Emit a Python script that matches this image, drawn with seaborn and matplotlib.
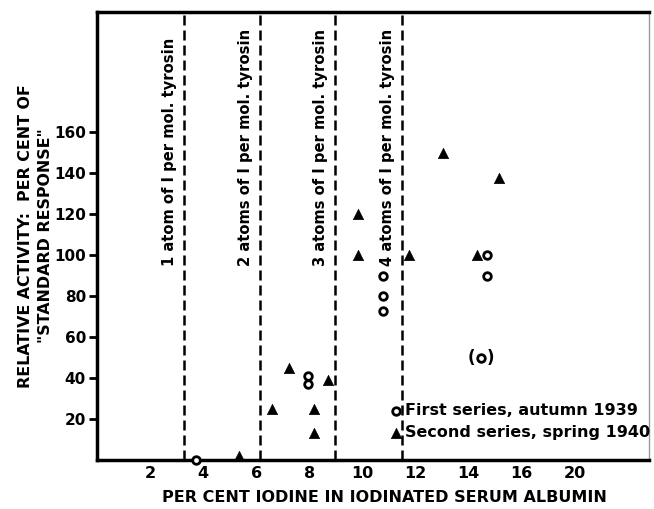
import matplotlib
matplotlib.use("Agg")
import matplotlib.pyplot as plt
import seaborn as sns
import pandas as pd

# first series, autumn 1939 (open circles)
first_x = [3.73, 7.95, 7.95, 10.77, 10.77, 10.77, 14.69, 14.72]
first_y = [0, 41, 37, 90, 80, 73, 90, 100]
# the doubtful point shown in brackets
doubt_x = [14.47]
doubt_y = [50]
# second series, spring 1940 (filled triangles)
second_x = [5.37, 6.59, 7.22, 8.18, 8.18, 8.72, 9.85, 9.85, 11.77, 13.03, 14.34, 15.17]
second_y = [2, 25, 45, 25, 13, 39, 120, 100, 100, 150, 100, 138]

# iodine content for n atoms of I per mol. tyrosin
atom_x = [3.27, 6.13, 8.96, 11.48]
atom_labels = ["1 atom of I per mol. tyrosin", "2 atoms of I per mol. tyrosin",
               "3 atoms of I per mol. tyrosin", "4 atoms of I per mol. tyrosin"]

y_ticks = [20, 40, 60, 80, 100, 120, 140, 160]
x_ticks = [2, 4, 6, 8, 10, 12, 14, 16, 18]
x_tick_labels = ["2", "4", "6", "8", "10", "12", "14", "16", "20"]

sns.set_theme(style="ticks")
plt.rcParams["font.family"] = ["DejaVu Sans"]
plt.rcParams["font.weight"] = "bold"
for key in ["text.color", "axes.labelcolor", "xtick.color", "ytick.color"]:
    plt.rcParams[key] = "black"

fig = plt.figure(figsize=(6.54, 5.09), dpi=100)
ax = fig.add_axes([0.1483, 0.0963, 0.8437, 0.8807])

df1 = pd.DataFrame({"x": first_x, "y": first_y})
df2 = pd.DataFrame({"x": second_x, "y": second_y})

sns.scatterplot(data=df1, x="x", y="y", ax=ax, marker="o", s=30,
                facecolor="white", edgecolor="black", linewidth=2.0,
                label="First series, autumn 1939", clip_on=False, zorder=4)
sns.scatterplot(data=df2, x="x", y="y", ax=ax, marker="^", s=55,
                color="black", edgecolor="black", linewidth=0.5,
                label="Second series, spring 1940", clip_on=False, zorder=4)
sns.scatterplot(x=doubt_x, y=doubt_y, ax=ax, marker="o", s=30,
                facecolor="white", edgecolor="black", linewidth=2.0, zorder=4)
for xv, yv in zip(doubt_x, doubt_y):
    ax.text(xv, yv, "(  )", ha="center", va="center", fontsize=12,
            fontweight="bold")

for xv, lab in zip(atom_x, atom_labels):
    ax.axvline(xv, color="black", lw=1.8, dashes=(4, 2), zorder=2)
    ax.text(xv - 0.53, 95, lab, rotation=90, ha="center", va="bottom",
            fontsize=10.6, fontweight="bold")

ax.set_xlim(0, 20.8)
ax.set_ylim(0, 219)
ax.set_xticks(x_ticks)
ax.set_xticklabels(x_tick_labels)
ax.set_yticks(y_ticks)
ax.tick_params(axis="x", length=0, pad=4, labelsize=11.5)
ax.tick_params(axis="y", length=6, width=2, pad=2, labelsize=11)
for lab in ax.get_xticklabels() + ax.get_yticklabels():
    lab.set_fontweight("bold")

ax.set_xlabel("PER CENT IODINE IN IODINATED SERUM ALBUMIN", fontsize=11.5,
              fontweight="bold")
ax.xaxis.set_label_coords(0.521, -0.067)
ax.set_ylabel("RELATIVE ACTIVITY:  PER CENT OF\n\"STANDARD RESPONSE\"",
              fontsize=11.4, fontweight="bold", labelpad=1, linespacing=1.35)

for side in ["left", "bottom", "top"]:
    ax.spines[side].set_linewidth(2.5)
    ax.spines[side].set_color("black")
ax.spines["right"].set_linewidth(1.0)
ax.spines["right"].set_color("#999999")

leg = ax.legend(loc="lower left", bbox_to_anchor=(0.515, 0.026), frameon=False,
                handletextpad=0.2, handlelength=0.8, borderpad=0,
                labelspacing=0.47, fontsize=11.5)
for t in leg.get_texts():
    t.set_fontweight("bold")

fig.savefig("out.png", dpi=100)
